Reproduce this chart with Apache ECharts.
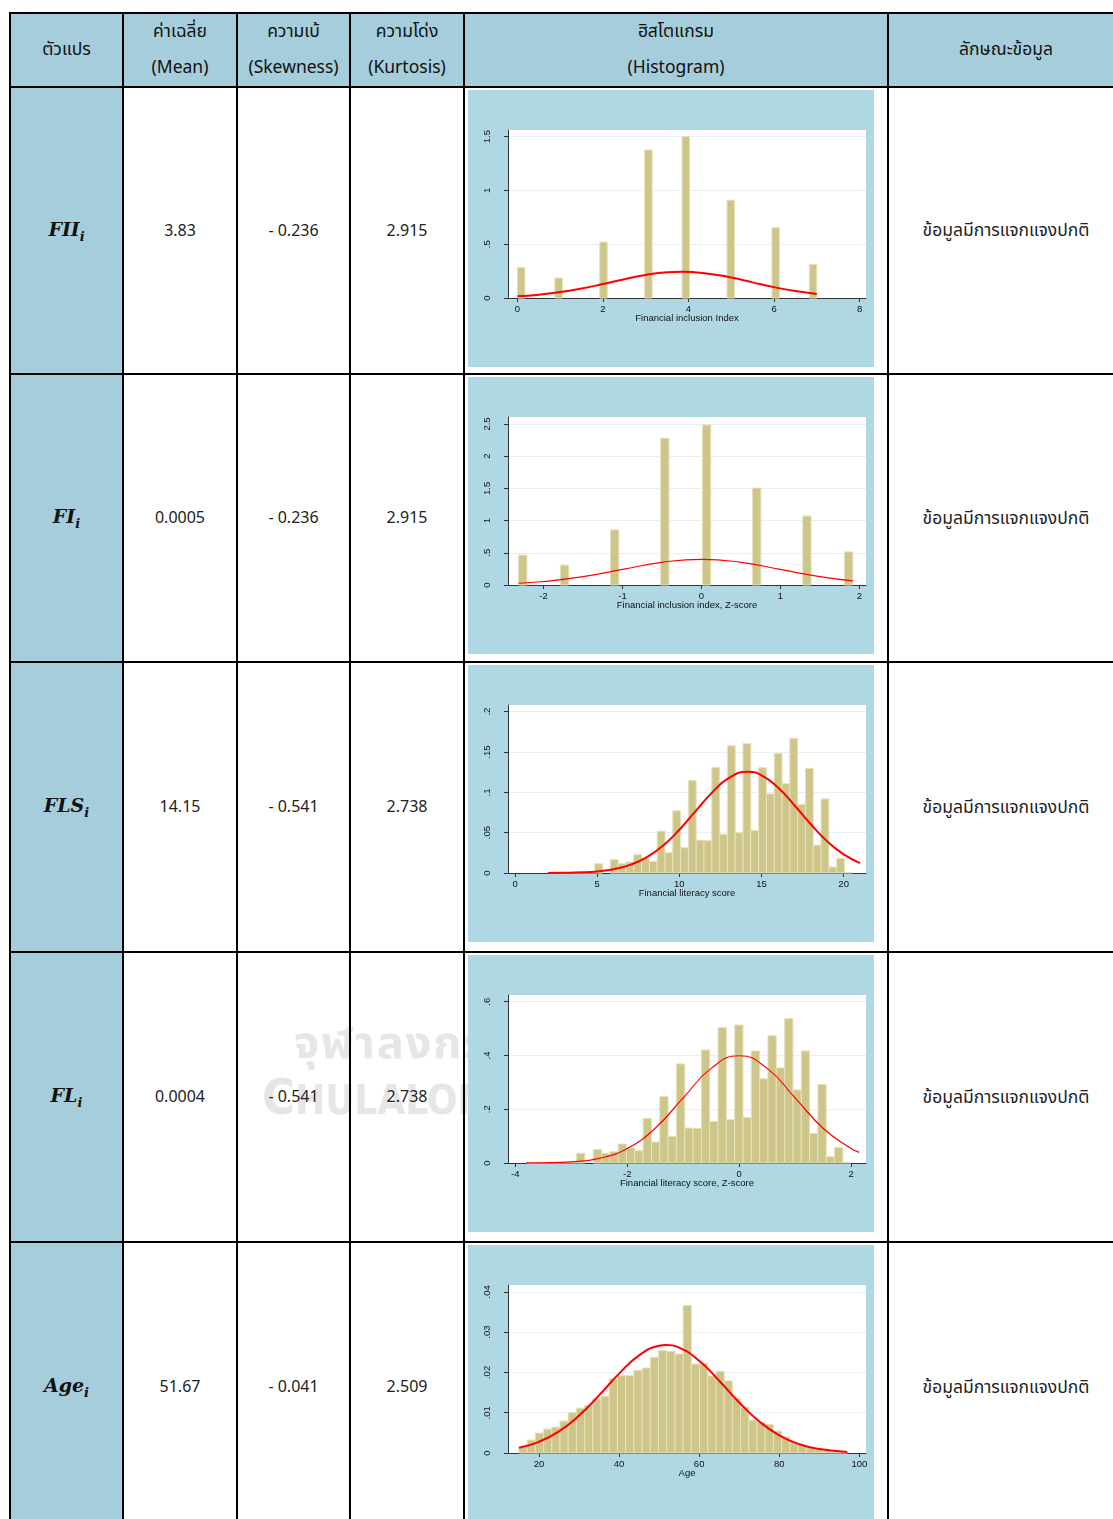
<!DOCTYPE html>
<html>
<head>
<meta charset="UTF-8">
<title>ค่าสถิติและฮิสโตแกรม</title>
<script src="https://cdn.jsdelivr.net/npm/echarts@6/dist/echarts.min.js"></script>
<style>
body{margin:0;width:1113px;height:1519px;overflow:hidden;background:#fff;font-family:"Noto Sans Thai","Noto Sans","DejaVu Sans",sans-serif;color:#222;position:relative;}
.mark{position:absolute;z-index:0;color:#e6e6e6;font-weight:bold;white-space:nowrap;}
table{position:absolute;left:9px;top:12px;z-index:1;border-collapse:collapse;table-layout:fixed;width:1114px;}
td{border:2px solid #000;padding:0;text-align:center;vertical-align:middle;font-size:16px;}
tr.head td{background:#a6cddb;color:#111;line-height:36px;font-size:17.5px;}
td.var{background:#a6cddb;font-family:"DejaVu Serif",serif;font-weight:bold;font-style:italic;font-size:19px;color:#111;}
td.var sub{font-size:13px;}
td.hist{vertical-align:top;text-align:left;}
td.note{font-size:17.5px;}
.panel{width:406px;height:277px;margin:2px 0 0 3px;}
</style>
</head>
<body>
<div class="mark" style="left:294px;top:1010px;font-size:45px;letter-spacing:2px;">จุฬาลงกรณ์</div>
<div class="mark" style="left:262px;top:1068px;font-size:40px;font-family:'DejaVu Sans Condensed','DejaVu Sans';font-stretch:condensed;"><span style="font-size:50px">C</span>HULALONGKORN</div>
<table>
<colgroup><col style="width:113px"><col style="width:114px"><col style="width:113px"><col style="width:114px"><col style="width:424px"><col style="width:236px"></colgroup>
<tr class="head" style="height:72px">
<td>ตัวแปร</td><td>ค่าเฉลี่ย<br>(Mean)</td><td>ความเบ้<br>(Skewness)</td><td>ความโด่ง<br>(Kurtosis)</td><td>ฮิสโตแกรม<br>(Histogram)</td><td>ลักษณะข้อมูล</td>
</tr>
<tr style="height:287px"><td class="var">FII<sub>i</sub></td><td>3.83</td><td>- 0.236</td><td>2.915</td><td class="hist"><div class="panel" id="c1"></div></td><td class="note">ข้อมูลมีการแจกแจงปกติ</td></tr>
<tr style="height:288px"><td class="var">FI<sub>i</sub></td><td>0.0005</td><td>- 0.236</td><td>2.915</td><td class="hist"><div class="panel" id="c2"></div></td><td class="note">ข้อมูลมีการแจกแจงปกติ</td></tr>
<tr style="height:290px"><td class="var">FLS<sub>i</sub></td><td>14.15</td><td>- 0.541</td><td>2.738</td><td class="hist"><div class="panel" id="c3"></div></td><td class="note">ข้อมูลมีการแจกแจงปกติ</td></tr>
<tr style="height:290px"><td class="var">FL<sub>i</sub></td><td>0.0004</td><td>- 0.541</td><td>2.738</td><td class="hist"><div class="panel" id="c4"></div></td><td class="note">ข้อมูลมีการแจกแจงปกติ</td></tr>
<tr style="height:290px"><td class="var">Age<sub>i</sub></td><td>51.67</td><td>- 0.041</td><td>2.509</td><td class="hist"><div class="panel" id="c5"></div></td><td class="note">ข้อมูลมีการแจกแจงปกติ</td></tr>
</table>
<script type="text/javascript">
// FII: ค่าที่อ่านจากภาพ
var fiiLeft = [0, 0.875, 1.925, 2.975, 3.85, 4.9, 5.95, 6.825];
var fiiBinWidth = 0.175;
var fiiDensity = [0.285, 0.186, 0.52, 1.376, 1.5, 0.909, 0.653, 0.312];
var fiiCurve = [[0,0.017],[0.5,0.031],[1,0.055],[1.5,0.088],[2,0.13],[2.5,0.175],[3,0.214],[3.5,0.239],[3.83,0.244],[4.5,0.224],[5,0.19],[5.5,0.145],[6,0.101],[6.5,0.064],[7,0.038]];
var fiiXTicks = [0, 2, 4, 6, 8];
var fiiYTicks = [0, 0.5, 1, 1.5];
var fiiYLabels = ['0', '.5', '1', '1.5'];

// FI (Z-score)
var fiLeft = [-2.316, -1.787, -1.152, -0.517, 0.012, 0.647, 1.282, 1.811];
var fiBinWidth = 0.106;
var fiDensity = [0.464, 0.309, 0.856, 2.278, 2.485, 1.505, 1.072, 0.515];
var fiCurve = [[-2.316,0.027],[-2,0.054],[-1.5,0.13],[-1,0.242],[-0.5,0.352],[0,0.399],[0.5,0.352],[1,0.242],[1.5,0.13],[1.917,0.064]];
var fiXTicks = [-2, -1, 0, 1, 2];
var fiYTicks = [0, 0.5, 1, 1.5, 2, 2.5];
var fiYLabels = ['0', '.5', '1', '1.5', '2', '2.5'];

// FLS
var flsStart = 2;
var flsBinWidth = 0.475;
var flsDensity = [0.0004, 0.0008, 0.0008, 0.0004, 0.0006, 0.0008, 0.0115, 0, 0.0165, 0.0115,
  0.0136, 0.0226, 0.0177, 0.0144, 0.0519, 0.0251, 0.077, 0.0313, 0.1148, 0.0407,
  0.0403, 0.1309, 0.0481, 0.1576, 0.0498, 0.1605, 0.0527, 0.1305, 0.098, 0.148,
  0.1107, 0.167, 0.0852, 0.1296, 0.0346, 0.0918, 0.0074, 0.0181, 0.0006, 0];
var flsCurve = [[2,0.0001],[3,0.0003],[4,0.0008],[5,0.002],[6,0.0047],[7,0.01],[8,0.0194],[9,0.0338],[10,0.0536],[11,0.0769],[12,0.0999],[13,0.1176],[14.15,0.1255],[15,0.1211],[16,0.106],[17,0.084],[18,0.0604],[19,0.0392],[20,0.0231],[21,0.0123]];
var flsXTicks = [0, 5, 10, 15, 20];
var flsYTicks = [0, 0.05, 0.1, 0.15, 0.2];
var flsYLabels = ['0', '.05', '.1', '.15', '.2'];

// FL (Z-score)
var flStart = -3.797;
var flBinWidth = 0.1487;
var flDensity = [0.0013, 0.0026, 0.0026, 0.0013, 0.0019, 0.0026, 0.0359, 0, 0.0507, 0.0359,
  0.042, 0.0705, 0.0557, 0.0458, 0.166, 0.078, 0.2474, 0.099, 0.3687, 0.13,
  0.1287, 0.4206, 0.1547, 0.5035, 0.161, 0.5134, 0.1695, 0.417, 0.313, 0.4738,
  0.3538, 0.537, 0.272, 0.417, 0.11, 0.292, 0.0235, 0.058, 0.002, 0];
var flCurve = [[-3.8,0.0003],[-3.5,0.0009],[-3,0.0044],[-2.5,0.0175],[-2,0.054],[-1.5,0.1295],[-1,0.242],[-0.5,0.352],[0,0.399],[0.5,0.352],[1,0.242],[1.5,0.1295],[2,0.054],[2.148,0.0396]];
var flXTicks = [-4, -2, 0, 2];
var flYTicks = [0, 0.2, 0.4, 0.6];
var flYLabels = ['0', '.2', '.4', '.6'];

// Age
var ageStart = 15;
var ageBinWidth = 2.05;
var ageDensity = [0.00148, 0.0032, 0.00495, 0.00594, 0.00643, 0.00792, 0.00998, 0.01113, 0.01179, 0.01344,
  0.0141, 0.0184, 0.0192, 0.0192, 0.0205, 0.0211, 0.02375, 0.0254, 0.02524, 0.02458,
  0.03662, 0.0221, 0.02227, 0.01913, 0.02029, 0.0179, 0.01353, 0.01138, 0.00816, 0.00759,
  0.00709, 0.00544, 0.00396, 0.00272, 0.0019, 0.00124, 0.0009, 0.0006, 0.0003, 0.0002];
var ageCurve = [[15,0.00129],[20,0.00278],[25,0.00538],[30,0.00928],[35,0.0143],[40,0.0197],[45,0.02424],[50,0.02663],[51.67,0.0268],[55,0.02614],[60,0.02291],[65,0.01794],[70,0.01254],[75,0.00784],[80,0.00438],[85,0.00218],[90,0.00097],[97,0.00026]];
var ageXTicks = [20, 40, 60, 80, 100];
var ageYTicks = [0, 0.01, 0.02, 0.03, 0.04];
var ageYLabels = ['0', '.01', '.02', '.03', '.04'];

var panelBlue = '#afd8e4';
var barFill = '#cdc58a';
var barLine = '#e7e2b8';
var axisColor = '#333';

function binsFromLeft(left, width, dens) {
  var out = [];
  for (var i = 0; i < left.length; i++) {
    if (dens[i] > 0) out.push([left[i], left[i] + width, dens[i]]);
  }
  return out;
}
function binsFromStart(start, width, dens) {
  var out = [];
  for (var i = 0; i < dens.length; i++) {
    if (dens[i] > 0) out.push([start + i * width, start + (i + 1) * width, dens[i]]);
  }
  return out;
}

function renderBar(params, api) {
  var p0 = api.coord([api.value(0), api.value(2)]);
  var p1 = api.coord([api.value(1), 0]);
  return {
    type: 'rect',
    shape: {x: p0[0], y: p0[1], width: p1[0] - p0[0], height: p1[1] - p0[1]},
    style: {fill: barFill, stroke: barLine, lineWidth: 1}
  };
}

function draw(id, c) {
  var chart = echarts.init(document.getElementById(id));
  var option = {
    animation: false,
    backgroundColor: panelBlue,
    grid: {left: 40, right: 8, top: 40, bottom: 69, show: true, backgroundColor: '#fff', borderWidth: 0},
    xAxis: {
      type: 'value', min: c.xMin, max: c.xMax,
      name: c.xName, nameLocation: 'middle', nameGap: 15, nameMoveOverlap: false,
      nameTextStyle: {fontFamily: 'Liberation Sans', fontSize: 9.5, color: '#111'},
      axisLine: {show: true, onZero: false, lineStyle: {color: axisColor, width: 1}},
      axisTick: {show: true, length: 4, customValues: c.xTicks, lineStyle: {color: axisColor}},
      axisLabel: {customValues: c.xTicks, fontFamily: 'Liberation Sans', fontSize: 9.5, color: '#111', margin: 6},
      splitLine: {show: false}
    },
    yAxis: {
      type: 'value', min: 0, max: c.yMax,
      axisLine: {show: true, onZero: false, lineStyle: {color: axisColor, width: 1}},
      axisTick: {show: true, length: 4, customValues: c.yTicks, lineStyle: {color: axisColor}},
      axisLabel: {
        customValues: c.yTicks, rotate: 90, margin: 16,
        fontFamily: 'Liberation Sans', fontSize: 9.5, color: '#111',
        formatter: function (v) {
          var i = c.yTicks.indexOf(v);
          return i >= 0 ? c.yLabels[i] : '';
        }
      },
      splitLine: {show: true, lineStyle: {color: '#e6eff1', width: 1}}
    },
    series: [
      {type: 'custom', renderItem: renderBar, data: c.bars, encode: {x: [0, 1], y: 2}, z: 2},
      {type: 'line', data: c.curve, smooth: true, symbol: 'none', z: 3,
       lineStyle: {color: '#ff0000', width: c.lw}}
    ]
  };
  chart.setOption(option);
}

draw('c1', {xMin: -0.22, xMax: 8.15, yMax: 1.561, xName: 'Financial inclusion Index',
  xTicks: fiiXTicks, yTicks: fiiYTicks, yLabels: fiiYLabels,
  bars: binsFromLeft(fiiLeft, fiiBinWidth, fiiDensity), curve: fiiCurve, lw: 2});
draw('c2', {xMin: -2.45, xMax: 2.084, yMax: 2.608, xName: 'Financial inclusion index, Z-score',
  xTicks: fiXTicks, yTicks: fiYTicks, yLabels: fiYLabels,
  bars: binsFromLeft(fiLeft, fiBinWidth, fiDensity), curve: fiCurve, lw: 1.2});
draw('c3', {xMin: -0.43, xMax: 21.36, yMax: 0.2082, xName: 'Financial literacy score',
  xTicks: flsXTicks, yTicks: flsYTicks, yLabels: flsYLabels,
  bars: binsFromStart(flsStart, flsBinWidth, flsDensity), curve: flsCurve, lw: 2});
draw('c4', {xMin: -4.13, xMax: 2.267, yMax: 0.625, xName: 'Financial literacy score, Z-score',
  xTicks: flXTicks, yTicks: flYTicks, yLabels: flYLabels,
  bars: binsFromStart(flStart, flBinWidth, flDensity), curve: flCurve, lw: 1.2});
draw('c5', {xMin: 12.27, xMax: 101.66, yMax: 0.0417, xName: 'Age',
  xTicks: ageXTicks, yTicks: ageYTicks, yLabels: ageYLabels,
  bars: binsFromStart(ageStart, ageBinWidth, ageDensity), curve: ageCurve, lw: 2});
</script>
</body>
</html>
